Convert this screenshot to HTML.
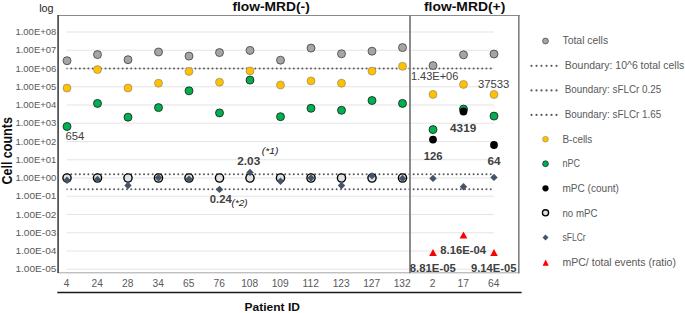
<!DOCTYPE html>
<html><head><meta charset="utf-8"><style>
html,body{margin:0;padding:0;background:#fff;width:685px;height:313px;overflow:hidden}
svg{display:block}
</style></head><body>
<svg width="685" height="313" viewBox="0 0 685 313">
<rect width="685" height="313" fill="#fff"/>
<line x1="66.7" x2="494" y1="269.25" y2="269.25" stroke="#e4e4e4" stroke-width="1.2"/>
<line x1="66.7" x2="494" y1="251.00" y2="251.00" stroke="#e4e4e4" stroke-width="1.2"/>
<line x1="66.7" x2="494" y1="232.75" y2="232.75" stroke="#e4e4e4" stroke-width="1.2"/>
<line x1="66.7" x2="494" y1="214.50" y2="214.50" stroke="#e4e4e4" stroke-width="1.2"/>
<line x1="66.7" x2="494" y1="196.25" y2="196.25" stroke="#e4e4e4" stroke-width="1.2"/>
<line x1="66.7" x2="494" y1="178.00" y2="178.00" stroke="#e4e4e4" stroke-width="1.2"/>
<line x1="66.7" x2="494" y1="159.75" y2="159.75" stroke="#e4e4e4" stroke-width="1.2"/>
<line x1="66.7" x2="494" y1="141.50" y2="141.50" stroke="#e4e4e4" stroke-width="1.2"/>
<line x1="66.7" x2="494" y1="123.25" y2="123.25" stroke="#e4e4e4" stroke-width="1.2"/>
<line x1="66.7" x2="494" y1="105.00" y2="105.00" stroke="#e4e4e4" stroke-width="1.2"/>
<line x1="66.7" x2="494" y1="86.75" y2="86.75" stroke="#e4e4e4" stroke-width="1.2"/>
<line x1="66.7" x2="494" y1="68.50" y2="68.50" stroke="#e4e4e4" stroke-width="1.2"/>
<line x1="66.7" x2="494" y1="50.25" y2="50.25" stroke="#e4e4e4" stroke-width="1.2"/>
<line x1="66.7" x2="494" y1="32.00" y2="32.00" stroke="#e4e4e4" stroke-width="1.2"/>
<circle cx="67.00" cy="68.50" r="1.0" fill="#5a5a5a" fill-opacity="0.6"/><circle cx="71.28" cy="68.50" r="1.0" fill="#5a5a5a"/><circle cx="75.56" cy="68.50" r="1.0" fill="#5a5a5a"/><circle cx="79.84" cy="68.50" r="1.0" fill="#5a5a5a"/><circle cx="84.12" cy="68.50" r="1.0" fill="#5a5a5a"/><circle cx="88.40" cy="68.50" r="1.0" fill="#5a5a5a"/><circle cx="92.68" cy="68.50" r="1.0" fill="#5a5a5a"/><circle cx="96.96" cy="68.50" r="1.0" fill="#5a5a5a"/><circle cx="101.24" cy="68.50" r="1.0" fill="#5a5a5a"/><circle cx="105.52" cy="68.50" r="1.0" fill="#5a5a5a"/><circle cx="109.80" cy="68.50" r="1.0" fill="#5a5a5a"/><circle cx="114.08" cy="68.50" r="1.0" fill="#5a5a5a"/><circle cx="118.36" cy="68.50" r="1.0" fill="#5a5a5a"/><circle cx="122.64" cy="68.50" r="1.0" fill="#5a5a5a"/><circle cx="126.92" cy="68.50" r="1.0" fill="#5a5a5a"/><circle cx="131.20" cy="68.50" r="1.0" fill="#5a5a5a"/><circle cx="135.48" cy="68.50" r="1.0" fill="#5a5a5a"/><circle cx="139.76" cy="68.50" r="1.0" fill="#5a5a5a"/><circle cx="144.04" cy="68.50" r="1.0" fill="#5a5a5a"/><circle cx="148.32" cy="68.50" r="1.0" fill="#5a5a5a"/><circle cx="152.60" cy="68.50" r="1.0" fill="#5a5a5a"/><circle cx="156.88" cy="68.50" r="1.0" fill="#5a5a5a"/><circle cx="161.16" cy="68.50" r="1.0" fill="#5a5a5a"/><circle cx="165.44" cy="68.50" r="1.0" fill="#5a5a5a"/><circle cx="169.72" cy="68.50" r="1.0" fill="#5a5a5a"/><circle cx="174.00" cy="68.50" r="1.0" fill="#5a5a5a"/><circle cx="178.28" cy="68.50" r="1.0" fill="#5a5a5a"/><circle cx="182.56" cy="68.50" r="1.0" fill="#5a5a5a"/><circle cx="186.84" cy="68.50" r="1.0" fill="#5a5a5a"/><circle cx="191.12" cy="68.50" r="1.0" fill="#5a5a5a"/><circle cx="195.40" cy="68.50" r="1.0" fill="#5a5a5a"/><circle cx="199.68" cy="68.50" r="1.0" fill="#5a5a5a"/><circle cx="203.96" cy="68.50" r="1.0" fill="#5a5a5a"/><circle cx="208.24" cy="68.50" r="1.0" fill="#5a5a5a"/><circle cx="212.52" cy="68.50" r="1.0" fill="#5a5a5a"/><circle cx="216.80" cy="68.50" r="1.0" fill="#5a5a5a"/><circle cx="221.08" cy="68.50" r="1.0" fill="#5a5a5a"/><circle cx="225.36" cy="68.50" r="1.0" fill="#5a5a5a"/><circle cx="229.64" cy="68.50" r="1.0" fill="#5a5a5a"/><circle cx="233.92" cy="68.50" r="1.0" fill="#5a5a5a"/><circle cx="238.20" cy="68.50" r="1.0" fill="#5a5a5a"/><circle cx="242.48" cy="68.50" r="1.0" fill="#5a5a5a"/><circle cx="246.76" cy="68.50" r="1.0" fill="#5a5a5a"/><circle cx="251.04" cy="68.50" r="1.0" fill="#5a5a5a"/><circle cx="255.32" cy="68.50" r="1.0" fill="#5a5a5a"/><circle cx="259.60" cy="68.50" r="1.0" fill="#5a5a5a"/><circle cx="263.88" cy="68.50" r="1.0" fill="#5a5a5a"/><circle cx="268.16" cy="68.50" r="1.0" fill="#5a5a5a"/><circle cx="272.44" cy="68.50" r="1.0" fill="#5a5a5a"/><circle cx="276.72" cy="68.50" r="1.0" fill="#5a5a5a"/><circle cx="281.00" cy="68.50" r="1.0" fill="#5a5a5a"/><circle cx="285.28" cy="68.50" r="1.0" fill="#5a5a5a"/><circle cx="289.56" cy="68.50" r="1.0" fill="#5a5a5a"/><circle cx="293.84" cy="68.50" r="1.0" fill="#5a5a5a"/><circle cx="298.12" cy="68.50" r="1.0" fill="#5a5a5a"/><circle cx="302.40" cy="68.50" r="1.0" fill="#5a5a5a"/><circle cx="306.68" cy="68.50" r="1.0" fill="#5a5a5a"/><circle cx="310.96" cy="68.50" r="1.0" fill="#5a5a5a"/><circle cx="315.24" cy="68.50" r="1.0" fill="#5a5a5a"/><circle cx="319.52" cy="68.50" r="1.0" fill="#5a5a5a"/><circle cx="323.80" cy="68.50" r="1.0" fill="#5a5a5a"/><circle cx="328.08" cy="68.50" r="1.0" fill="#5a5a5a"/><circle cx="332.36" cy="68.50" r="1.0" fill="#5a5a5a"/><circle cx="336.64" cy="68.50" r="1.0" fill="#5a5a5a"/><circle cx="340.92" cy="68.50" r="1.0" fill="#5a5a5a"/><circle cx="345.20" cy="68.50" r="1.0" fill="#5a5a5a"/><circle cx="349.48" cy="68.50" r="1.0" fill="#5a5a5a"/><circle cx="353.76" cy="68.50" r="1.0" fill="#5a5a5a"/><circle cx="358.04" cy="68.50" r="1.0" fill="#5a5a5a"/><circle cx="362.32" cy="68.50" r="1.0" fill="#5a5a5a"/><circle cx="366.60" cy="68.50" r="1.0" fill="#5a5a5a"/><circle cx="370.88" cy="68.50" r="1.0" fill="#5a5a5a"/><circle cx="375.16" cy="68.50" r="1.0" fill="#5a5a5a"/><circle cx="379.44" cy="68.50" r="1.0" fill="#5a5a5a"/><circle cx="383.72" cy="68.50" r="1.0" fill="#5a5a5a"/><circle cx="388.00" cy="68.50" r="1.0" fill="#5a5a5a"/><circle cx="392.28" cy="68.50" r="1.0" fill="#5a5a5a"/><circle cx="396.56" cy="68.50" r="1.0" fill="#5a5a5a"/><circle cx="400.84" cy="68.50" r="1.0" fill="#5a5a5a"/><circle cx="405.12" cy="68.50" r="1.0" fill="#5a5a5a"/><circle cx="409.40" cy="68.50" r="1.0" fill="#5a5a5a"/><circle cx="413.68" cy="68.50" r="1.0" fill="#5a5a5a"/><circle cx="417.96" cy="68.50" r="1.0" fill="#5a5a5a"/><circle cx="422.24" cy="68.50" r="1.0" fill="#5a5a5a"/><circle cx="426.52" cy="68.50" r="1.0" fill="#5a5a5a"/><circle cx="430.80" cy="68.50" r="1.0" fill="#5a5a5a"/><circle cx="435.08" cy="68.50" r="1.0" fill="#5a5a5a"/><circle cx="439.36" cy="68.50" r="1.0" fill="#5a5a5a"/><circle cx="443.64" cy="68.50" r="1.0" fill="#5a5a5a"/><circle cx="447.92" cy="68.50" r="1.0" fill="#5a5a5a"/><circle cx="452.20" cy="68.50" r="1.0" fill="#5a5a5a"/><circle cx="456.48" cy="68.50" r="1.0" fill="#5a5a5a"/><circle cx="460.76" cy="68.50" r="1.0" fill="#5a5a5a"/><circle cx="465.04" cy="68.50" r="1.0" fill="#5a5a5a"/><circle cx="469.32" cy="68.50" r="1.0" fill="#5a5a5a"/><circle cx="473.60" cy="68.50" r="1.0" fill="#5a5a5a"/><circle cx="477.88" cy="68.50" r="1.0" fill="#5a5a5a"/><circle cx="482.16" cy="68.50" r="1.0" fill="#5a5a5a"/><circle cx="486.44" cy="68.50" r="1.0" fill="#5a5a5a"/><circle cx="490.72" cy="68.50" r="1.0" fill="#5a5a5a"/>
<circle cx="67.00" cy="174.30" r="1.0" fill="#5a5a5a" fill-opacity="0.6"/><circle cx="71.28" cy="174.30" r="1.0" fill="#5a5a5a"/><circle cx="75.56" cy="174.30" r="1.0" fill="#5a5a5a"/><circle cx="79.84" cy="174.30" r="1.0" fill="#5a5a5a"/><circle cx="84.12" cy="174.30" r="1.0" fill="#5a5a5a"/><circle cx="88.40" cy="174.30" r="1.0" fill="#5a5a5a"/><circle cx="92.68" cy="174.30" r="1.0" fill="#5a5a5a"/><circle cx="96.96" cy="174.30" r="1.0" fill="#5a5a5a"/><circle cx="101.24" cy="174.30" r="1.0" fill="#5a5a5a"/><circle cx="105.52" cy="174.30" r="1.0" fill="#5a5a5a"/><circle cx="109.80" cy="174.30" r="1.0" fill="#5a5a5a"/><circle cx="114.08" cy="174.30" r="1.0" fill="#5a5a5a"/><circle cx="118.36" cy="174.30" r="1.0" fill="#5a5a5a"/><circle cx="122.64" cy="174.30" r="1.0" fill="#5a5a5a"/><circle cx="126.92" cy="174.30" r="1.0" fill="#5a5a5a"/><circle cx="131.20" cy="174.30" r="1.0" fill="#5a5a5a"/><circle cx="135.48" cy="174.30" r="1.0" fill="#5a5a5a"/><circle cx="139.76" cy="174.30" r="1.0" fill="#5a5a5a"/><circle cx="144.04" cy="174.30" r="1.0" fill="#5a5a5a"/><circle cx="148.32" cy="174.30" r="1.0" fill="#5a5a5a"/><circle cx="152.60" cy="174.30" r="1.0" fill="#5a5a5a"/><circle cx="156.88" cy="174.30" r="1.0" fill="#5a5a5a"/><circle cx="161.16" cy="174.30" r="1.0" fill="#5a5a5a"/><circle cx="165.44" cy="174.30" r="1.0" fill="#5a5a5a"/><circle cx="169.72" cy="174.30" r="1.0" fill="#5a5a5a"/><circle cx="174.00" cy="174.30" r="1.0" fill="#5a5a5a"/><circle cx="178.28" cy="174.30" r="1.0" fill="#5a5a5a"/><circle cx="182.56" cy="174.30" r="1.0" fill="#5a5a5a"/><circle cx="186.84" cy="174.30" r="1.0" fill="#5a5a5a"/><circle cx="191.12" cy="174.30" r="1.0" fill="#5a5a5a"/><circle cx="195.40" cy="174.30" r="1.0" fill="#5a5a5a"/><circle cx="199.68" cy="174.30" r="1.0" fill="#5a5a5a"/><circle cx="203.96" cy="174.30" r="1.0" fill="#5a5a5a"/><circle cx="208.24" cy="174.30" r="1.0" fill="#5a5a5a"/><circle cx="212.52" cy="174.30" r="1.0" fill="#5a5a5a"/><circle cx="216.80" cy="174.30" r="1.0" fill="#5a5a5a"/><circle cx="221.08" cy="174.30" r="1.0" fill="#5a5a5a"/><circle cx="225.36" cy="174.30" r="1.0" fill="#5a5a5a"/><circle cx="229.64" cy="174.30" r="1.0" fill="#5a5a5a"/><circle cx="233.92" cy="174.30" r="1.0" fill="#5a5a5a"/><circle cx="238.20" cy="174.30" r="1.0" fill="#5a5a5a"/><circle cx="242.48" cy="174.30" r="1.0" fill="#5a5a5a"/><circle cx="246.76" cy="174.30" r="1.0" fill="#5a5a5a"/><circle cx="251.04" cy="174.30" r="1.0" fill="#5a5a5a"/><circle cx="255.32" cy="174.30" r="1.0" fill="#5a5a5a"/><circle cx="259.60" cy="174.30" r="1.0" fill="#5a5a5a"/><circle cx="263.88" cy="174.30" r="1.0" fill="#5a5a5a"/><circle cx="268.16" cy="174.30" r="1.0" fill="#5a5a5a"/><circle cx="272.44" cy="174.30" r="1.0" fill="#5a5a5a"/><circle cx="276.72" cy="174.30" r="1.0" fill="#5a5a5a"/><circle cx="281.00" cy="174.30" r="1.0" fill="#5a5a5a"/><circle cx="285.28" cy="174.30" r="1.0" fill="#5a5a5a"/><circle cx="289.56" cy="174.30" r="1.0" fill="#5a5a5a"/><circle cx="293.84" cy="174.30" r="1.0" fill="#5a5a5a"/><circle cx="298.12" cy="174.30" r="1.0" fill="#5a5a5a"/><circle cx="302.40" cy="174.30" r="1.0" fill="#5a5a5a"/><circle cx="306.68" cy="174.30" r="1.0" fill="#5a5a5a"/><circle cx="310.96" cy="174.30" r="1.0" fill="#5a5a5a"/><circle cx="315.24" cy="174.30" r="1.0" fill="#5a5a5a"/><circle cx="319.52" cy="174.30" r="1.0" fill="#5a5a5a"/><circle cx="323.80" cy="174.30" r="1.0" fill="#5a5a5a"/><circle cx="328.08" cy="174.30" r="1.0" fill="#5a5a5a"/><circle cx="332.36" cy="174.30" r="1.0" fill="#5a5a5a"/><circle cx="336.64" cy="174.30" r="1.0" fill="#5a5a5a"/><circle cx="340.92" cy="174.30" r="1.0" fill="#5a5a5a"/><circle cx="345.20" cy="174.30" r="1.0" fill="#5a5a5a"/><circle cx="349.48" cy="174.30" r="1.0" fill="#5a5a5a"/><circle cx="353.76" cy="174.30" r="1.0" fill="#5a5a5a"/><circle cx="358.04" cy="174.30" r="1.0" fill="#5a5a5a"/><circle cx="362.32" cy="174.30" r="1.0" fill="#5a5a5a"/><circle cx="366.60" cy="174.30" r="1.0" fill="#5a5a5a"/><circle cx="370.88" cy="174.30" r="1.0" fill="#5a5a5a"/><circle cx="375.16" cy="174.30" r="1.0" fill="#5a5a5a"/><circle cx="379.44" cy="174.30" r="1.0" fill="#5a5a5a"/><circle cx="383.72" cy="174.30" r="1.0" fill="#5a5a5a"/><circle cx="388.00" cy="174.30" r="1.0" fill="#5a5a5a"/><circle cx="392.28" cy="174.30" r="1.0" fill="#5a5a5a"/><circle cx="396.56" cy="174.30" r="1.0" fill="#5a5a5a"/><circle cx="400.84" cy="174.30" r="1.0" fill="#5a5a5a"/><circle cx="405.12" cy="174.30" r="1.0" fill="#5a5a5a"/><circle cx="409.40" cy="174.30" r="1.0" fill="#5a5a5a"/><circle cx="413.68" cy="174.30" r="1.0" fill="#5a5a5a"/><circle cx="417.96" cy="174.30" r="1.0" fill="#5a5a5a"/><circle cx="422.24" cy="174.30" r="1.0" fill="#5a5a5a"/><circle cx="426.52" cy="174.30" r="1.0" fill="#5a5a5a"/><circle cx="430.80" cy="174.30" r="1.0" fill="#5a5a5a"/><circle cx="435.08" cy="174.30" r="1.0" fill="#5a5a5a"/><circle cx="439.36" cy="174.30" r="1.0" fill="#5a5a5a"/><circle cx="443.64" cy="174.30" r="1.0" fill="#5a5a5a"/><circle cx="447.92" cy="174.30" r="1.0" fill="#5a5a5a"/><circle cx="452.20" cy="174.30" r="1.0" fill="#5a5a5a"/><circle cx="456.48" cy="174.30" r="1.0" fill="#5a5a5a"/><circle cx="460.76" cy="174.30" r="1.0" fill="#5a5a5a"/><circle cx="465.04" cy="174.30" r="1.0" fill="#5a5a5a"/><circle cx="469.32" cy="174.30" r="1.0" fill="#5a5a5a"/><circle cx="473.60" cy="174.30" r="1.0" fill="#5a5a5a"/><circle cx="477.88" cy="174.30" r="1.0" fill="#5a5a5a"/><circle cx="482.16" cy="174.30" r="1.0" fill="#5a5a5a"/><circle cx="486.44" cy="174.30" r="1.0" fill="#5a5a5a"/><circle cx="490.72" cy="174.30" r="1.0" fill="#5a5a5a"/>
<circle cx="67.00" cy="189.30" r="1.0" fill="#5a5a5a" fill-opacity="0.6"/><circle cx="71.28" cy="189.30" r="1.0" fill="#5a5a5a"/><circle cx="75.56" cy="189.30" r="1.0" fill="#5a5a5a"/><circle cx="79.84" cy="189.30" r="1.0" fill="#5a5a5a"/><circle cx="84.12" cy="189.30" r="1.0" fill="#5a5a5a"/><circle cx="88.40" cy="189.30" r="1.0" fill="#5a5a5a"/><circle cx="92.68" cy="189.30" r="1.0" fill="#5a5a5a"/><circle cx="96.96" cy="189.30" r="1.0" fill="#5a5a5a"/><circle cx="101.24" cy="189.30" r="1.0" fill="#5a5a5a"/><circle cx="105.52" cy="189.30" r="1.0" fill="#5a5a5a"/><circle cx="109.80" cy="189.30" r="1.0" fill="#5a5a5a"/><circle cx="114.08" cy="189.30" r="1.0" fill="#5a5a5a"/><circle cx="118.36" cy="189.30" r="1.0" fill="#5a5a5a"/><circle cx="122.64" cy="189.30" r="1.0" fill="#5a5a5a"/><circle cx="126.92" cy="189.30" r="1.0" fill="#5a5a5a"/><circle cx="131.20" cy="189.30" r="1.0" fill="#5a5a5a"/><circle cx="135.48" cy="189.30" r="1.0" fill="#5a5a5a"/><circle cx="139.76" cy="189.30" r="1.0" fill="#5a5a5a"/><circle cx="144.04" cy="189.30" r="1.0" fill="#5a5a5a"/><circle cx="148.32" cy="189.30" r="1.0" fill="#5a5a5a"/><circle cx="152.60" cy="189.30" r="1.0" fill="#5a5a5a"/><circle cx="156.88" cy="189.30" r="1.0" fill="#5a5a5a"/><circle cx="161.16" cy="189.30" r="1.0" fill="#5a5a5a"/><circle cx="165.44" cy="189.30" r="1.0" fill="#5a5a5a"/><circle cx="169.72" cy="189.30" r="1.0" fill="#5a5a5a"/><circle cx="174.00" cy="189.30" r="1.0" fill="#5a5a5a"/><circle cx="178.28" cy="189.30" r="1.0" fill="#5a5a5a"/><circle cx="182.56" cy="189.30" r="1.0" fill="#5a5a5a"/><circle cx="186.84" cy="189.30" r="1.0" fill="#5a5a5a"/><circle cx="191.12" cy="189.30" r="1.0" fill="#5a5a5a"/><circle cx="195.40" cy="189.30" r="1.0" fill="#5a5a5a"/><circle cx="199.68" cy="189.30" r="1.0" fill="#5a5a5a"/><circle cx="203.96" cy="189.30" r="1.0" fill="#5a5a5a"/><circle cx="208.24" cy="189.30" r="1.0" fill="#5a5a5a"/><circle cx="212.52" cy="189.30" r="1.0" fill="#5a5a5a"/><circle cx="216.80" cy="189.30" r="1.0" fill="#5a5a5a"/><circle cx="221.08" cy="189.30" r="1.0" fill="#5a5a5a"/><circle cx="225.36" cy="189.30" r="1.0" fill="#5a5a5a"/><circle cx="229.64" cy="189.30" r="1.0" fill="#5a5a5a"/><circle cx="233.92" cy="189.30" r="1.0" fill="#5a5a5a"/><circle cx="238.20" cy="189.30" r="1.0" fill="#5a5a5a"/><circle cx="242.48" cy="189.30" r="1.0" fill="#5a5a5a"/><circle cx="246.76" cy="189.30" r="1.0" fill="#5a5a5a"/><circle cx="251.04" cy="189.30" r="1.0" fill="#5a5a5a"/><circle cx="255.32" cy="189.30" r="1.0" fill="#5a5a5a"/><circle cx="259.60" cy="189.30" r="1.0" fill="#5a5a5a"/><circle cx="263.88" cy="189.30" r="1.0" fill="#5a5a5a"/><circle cx="268.16" cy="189.30" r="1.0" fill="#5a5a5a"/><circle cx="272.44" cy="189.30" r="1.0" fill="#5a5a5a"/><circle cx="276.72" cy="189.30" r="1.0" fill="#5a5a5a"/><circle cx="281.00" cy="189.30" r="1.0" fill="#5a5a5a"/><circle cx="285.28" cy="189.30" r="1.0" fill="#5a5a5a"/><circle cx="289.56" cy="189.30" r="1.0" fill="#5a5a5a"/><circle cx="293.84" cy="189.30" r="1.0" fill="#5a5a5a"/><circle cx="298.12" cy="189.30" r="1.0" fill="#5a5a5a"/><circle cx="302.40" cy="189.30" r="1.0" fill="#5a5a5a"/><circle cx="306.68" cy="189.30" r="1.0" fill="#5a5a5a"/><circle cx="310.96" cy="189.30" r="1.0" fill="#5a5a5a"/><circle cx="315.24" cy="189.30" r="1.0" fill="#5a5a5a"/><circle cx="319.52" cy="189.30" r="1.0" fill="#5a5a5a"/><circle cx="323.80" cy="189.30" r="1.0" fill="#5a5a5a"/><circle cx="328.08" cy="189.30" r="1.0" fill="#5a5a5a"/><circle cx="332.36" cy="189.30" r="1.0" fill="#5a5a5a"/><circle cx="336.64" cy="189.30" r="1.0" fill="#5a5a5a"/><circle cx="340.92" cy="189.30" r="1.0" fill="#5a5a5a"/><circle cx="345.20" cy="189.30" r="1.0" fill="#5a5a5a"/><circle cx="349.48" cy="189.30" r="1.0" fill="#5a5a5a"/><circle cx="353.76" cy="189.30" r="1.0" fill="#5a5a5a"/><circle cx="358.04" cy="189.30" r="1.0" fill="#5a5a5a"/><circle cx="362.32" cy="189.30" r="1.0" fill="#5a5a5a"/><circle cx="366.60" cy="189.30" r="1.0" fill="#5a5a5a"/><circle cx="370.88" cy="189.30" r="1.0" fill="#5a5a5a"/><circle cx="375.16" cy="189.30" r="1.0" fill="#5a5a5a"/><circle cx="379.44" cy="189.30" r="1.0" fill="#5a5a5a"/><circle cx="383.72" cy="189.30" r="1.0" fill="#5a5a5a"/><circle cx="388.00" cy="189.30" r="1.0" fill="#5a5a5a"/><circle cx="392.28" cy="189.30" r="1.0" fill="#5a5a5a"/><circle cx="396.56" cy="189.30" r="1.0" fill="#5a5a5a"/><circle cx="400.84" cy="189.30" r="1.0" fill="#5a5a5a"/><circle cx="405.12" cy="189.30" r="1.0" fill="#5a5a5a"/><circle cx="409.40" cy="189.30" r="1.0" fill="#5a5a5a"/><circle cx="413.68" cy="189.30" r="1.0" fill="#5a5a5a"/><circle cx="417.96" cy="189.30" r="1.0" fill="#5a5a5a"/><circle cx="422.24" cy="189.30" r="1.0" fill="#5a5a5a"/><circle cx="426.52" cy="189.30" r="1.0" fill="#5a5a5a"/><circle cx="430.80" cy="189.30" r="1.0" fill="#5a5a5a"/><circle cx="435.08" cy="189.30" r="1.0" fill="#5a5a5a"/><circle cx="439.36" cy="189.30" r="1.0" fill="#5a5a5a"/><circle cx="443.64" cy="189.30" r="1.0" fill="#5a5a5a"/><circle cx="447.92" cy="189.30" r="1.0" fill="#5a5a5a"/><circle cx="452.20" cy="189.30" r="1.0" fill="#5a5a5a"/><circle cx="456.48" cy="189.30" r="1.0" fill="#5a5a5a"/><circle cx="460.76" cy="189.30" r="1.0" fill="#5a5a5a"/><circle cx="465.04" cy="189.30" r="1.0" fill="#5a5a5a"/><circle cx="469.32" cy="189.30" r="1.0" fill="#5a5a5a"/><circle cx="473.60" cy="189.30" r="1.0" fill="#5a5a5a"/><circle cx="477.88" cy="189.30" r="1.0" fill="#5a5a5a"/><circle cx="482.16" cy="189.30" r="1.0" fill="#5a5a5a"/><circle cx="486.44" cy="189.30" r="1.0" fill="#5a5a5a"/><circle cx="490.72" cy="189.30" r="1.0" fill="#5a5a5a"/>
<line x1="58" x2="519.5" y1="15.5" y2="15.5" stroke="#8a8a8a" stroke-width="1"/>
<line x1="58" x2="519.5" y1="272.8" y2="272.8" stroke="#a6a6a6" stroke-width="1"/>
<line x1="410" x2="410" y1="15" y2="273.3" stroke="#7f7f7f" stroke-width="1.8"/>
<line x1="518.8" x2="518.8" y1="15" y2="273.3" stroke="#7f7f7f" stroke-width="1.6"/>
<line x1="58.1" x2="58.1" y1="15" y2="273" stroke="#333" stroke-width="1.5"/>
<line x1="57.3" x2="521.6" y1="292.6" y2="292.6" stroke="#1a1a1a" stroke-width="1.5"/>
<circle cx="67.00" cy="60.7" r="4.0" fill="#a5a5a5" stroke="#404040" stroke-width="0.8"/>
<circle cx="97.50" cy="54.6" r="4.0" fill="#a5a5a5" stroke="#404040" stroke-width="0.8"/>
<circle cx="128.00" cy="59.7" r="4.0" fill="#a5a5a5" stroke="#404040" stroke-width="0.8"/>
<circle cx="158.50" cy="52.0" r="4.0" fill="#a5a5a5" stroke="#404040" stroke-width="0.8"/>
<circle cx="189.00" cy="56.1" r="4.0" fill="#a5a5a5" stroke="#404040" stroke-width="0.8"/>
<circle cx="219.50" cy="52.6" r="4.0" fill="#a5a5a5" stroke="#404040" stroke-width="0.8"/>
<circle cx="250.00" cy="50.4" r="4.0" fill="#a5a5a5" stroke="#404040" stroke-width="0.8"/>
<circle cx="280.50" cy="60.2" r="4.0" fill="#a5a5a5" stroke="#404040" stroke-width="0.8"/>
<circle cx="311.00" cy="48.1" r="4.0" fill="#a5a5a5" stroke="#404040" stroke-width="0.8"/>
<circle cx="341.50" cy="53.8" r="4.0" fill="#a5a5a5" stroke="#404040" stroke-width="0.8"/>
<circle cx="372.00" cy="51.2" r="4.0" fill="#a5a5a5" stroke="#404040" stroke-width="0.8"/>
<circle cx="402.50" cy="47.6" r="4.0" fill="#a5a5a5" stroke="#404040" stroke-width="0.8"/>
<circle cx="433.00" cy="65.6" r="4.0" fill="#a5a5a5" stroke="#404040" stroke-width="0.8"/>
<circle cx="463.50" cy="54.8" r="4.0" fill="#a5a5a5" stroke="#404040" stroke-width="0.8"/>
<circle cx="494.00" cy="54.0" r="4.0" fill="#a5a5a5" stroke="#404040" stroke-width="0.8"/>
<circle cx="67.00" cy="88.1" r="4.0" fill="#ffc000" stroke="#7f7f7f" stroke-width="0.6"/>
<circle cx="97.50" cy="69.6" r="4.0" fill="#ffc000" stroke="#7f7f7f" stroke-width="0.6"/>
<circle cx="128.00" cy="88.0" r="4.0" fill="#ffc000" stroke="#7f7f7f" stroke-width="0.6"/>
<circle cx="158.50" cy="83.2" r="4.0" fill="#ffc000" stroke="#7f7f7f" stroke-width="0.6"/>
<circle cx="189.00" cy="71.4" r="4.0" fill="#ffc000" stroke="#7f7f7f" stroke-width="0.6"/>
<circle cx="219.50" cy="82.2" r="4.0" fill="#ffc000" stroke="#7f7f7f" stroke-width="0.6"/>
<circle cx="250.00" cy="70.9" r="4.0" fill="#ffc000" stroke="#7f7f7f" stroke-width="0.6"/>
<circle cx="280.50" cy="85.0" r="4.0" fill="#ffc000" stroke="#7f7f7f" stroke-width="0.6"/>
<circle cx="311.00" cy="80.9" r="4.0" fill="#ffc000" stroke="#7f7f7f" stroke-width="0.6"/>
<circle cx="341.50" cy="83.2" r="4.0" fill="#ffc000" stroke="#7f7f7f" stroke-width="0.6"/>
<circle cx="372.00" cy="71.1" r="4.0" fill="#ffc000" stroke="#7f7f7f" stroke-width="0.6"/>
<circle cx="402.50" cy="66.3" r="4.0" fill="#ffc000" stroke="#7f7f7f" stroke-width="0.6"/>
<circle cx="433.00" cy="94.4" r="4.0" fill="#ffc000" stroke="#7f7f7f" stroke-width="0.6"/>
<circle cx="463.50" cy="84.4" r="4.0" fill="#ffc000" stroke="#7f7f7f" stroke-width="0.6"/>
<circle cx="494.00" cy="94.5" r="4.0" fill="#ffc000" stroke="#7f7f7f" stroke-width="0.6"/>
<circle cx="67.00" cy="126.5" r="4.0" fill="#00b050" stroke="#1a1a1a" stroke-width="0.8"/>
<circle cx="97.50" cy="103.4" r="4.0" fill="#00b050" stroke="#1a1a1a" stroke-width="0.8"/>
<circle cx="128.00" cy="117.2" r="4.0" fill="#00b050" stroke="#1a1a1a" stroke-width="0.8"/>
<circle cx="158.50" cy="107.6" r="4.0" fill="#00b050" stroke="#1a1a1a" stroke-width="0.8"/>
<circle cx="189.00" cy="90.8" r="4.0" fill="#00b050" stroke="#1a1a1a" stroke-width="0.8"/>
<circle cx="219.50" cy="112.9" r="4.0" fill="#00b050" stroke="#1a1a1a" stroke-width="0.8"/>
<circle cx="250.00" cy="80.1" r="4.0" fill="#00b050" stroke="#1a1a1a" stroke-width="0.8"/>
<circle cx="280.50" cy="116.7" r="4.0" fill="#00b050" stroke="#1a1a1a" stroke-width="0.8"/>
<circle cx="311.00" cy="108.3" r="4.0" fill="#00b050" stroke="#1a1a1a" stroke-width="0.8"/>
<circle cx="341.50" cy="110.3" r="4.0" fill="#00b050" stroke="#1a1a1a" stroke-width="0.8"/>
<circle cx="372.00" cy="100.5" r="4.0" fill="#00b050" stroke="#1a1a1a" stroke-width="0.8"/>
<circle cx="402.50" cy="103.4" r="4.0" fill="#00b050" stroke="#1a1a1a" stroke-width="0.8"/>
<circle cx="433.00" cy="129.6" r="4.0" fill="#00b050" stroke="#1a1a1a" stroke-width="0.8"/>
<circle cx="463.50" cy="109.1" r="4.0" fill="#00b050" stroke="#1a1a1a" stroke-width="0.8"/>
<circle cx="494.00" cy="116.1" r="4.0" fill="#00b050" stroke="#1a1a1a" stroke-width="0.8"/>
<circle cx="433.00" cy="139.6" r="3.9" fill="#000"/>
<circle cx="463.50" cy="111.5" r="3.9" fill="#000"/>
<circle cx="494.00" cy="145.0" r="3.9" fill="#000"/>
<circle cx="67.00" cy="178.0" r="4.1" fill="#e2e2e2" stroke="#000" stroke-width="1.4"/>
<circle cx="97.50" cy="178.0" r="4.1" fill="#e2e2e2" stroke="#000" stroke-width="1.4"/>
<circle cx="128.00" cy="178.0" r="4.1" fill="#e2e2e2" stroke="#000" stroke-width="1.4"/>
<circle cx="158.50" cy="178.0" r="4.1" fill="#e2e2e2" stroke="#000" stroke-width="1.4"/>
<circle cx="189.00" cy="178.0" r="4.1" fill="#e2e2e2" stroke="#000" stroke-width="1.4"/>
<circle cx="219.50" cy="178.0" r="4.1" fill="#e2e2e2" stroke="#000" stroke-width="1.4"/>
<circle cx="250.00" cy="178.0" r="4.1" fill="#e2e2e2" stroke="#000" stroke-width="1.4"/>
<circle cx="280.50" cy="178.0" r="4.1" fill="#e2e2e2" stroke="#000" stroke-width="1.4"/>
<circle cx="311.00" cy="178.0" r="4.1" fill="#e2e2e2" stroke="#000" stroke-width="1.4"/>
<circle cx="341.50" cy="178.0" r="4.1" fill="#e2e2e2" stroke="#000" stroke-width="1.4"/>
<circle cx="372.00" cy="178.0" r="4.1" fill="#e2e2e2" stroke="#000" stroke-width="1.4"/>
<circle cx="402.50" cy="178.0" r="4.1" fill="#e2e2e2" stroke="#000" stroke-width="1.4"/>
<path d="M67.00 176.50L70.70 180.20L67.00 183.90L63.30 180.20Z" fill="#44546a"/>
<path d="M97.50 175.70L101.20 179.40L97.50 183.10L93.80 179.40Z" fill="#44546a"/>
<path d="M128.00 181.80L131.70 185.50L128.00 189.20L124.30 185.50Z" fill="#44546a"/>
<path d="M158.50 174.10L162.20 177.80L158.50 181.50L154.80 177.80Z" fill="#44546a"/>
<path d="M189.00 175.40L192.70 179.10L189.00 182.80L185.30 179.10Z" fill="#44546a"/>
<path d="M219.50 185.70L223.20 189.40L219.50 193.10L215.80 189.40Z" fill="#44546a"/>
<path d="M250.00 168.70L253.70 172.40L250.00 176.10L246.30 172.40Z" fill="#44546a"/>
<path d="M280.50 177.60L284.20 181.30L280.50 185.00L276.80 181.30Z" fill="#44546a"/>
<path d="M311.00 174.30L314.70 178.00L311.00 181.70L307.30 178.00Z" fill="#44546a"/>
<path d="M341.50 181.80L345.20 185.50L341.50 189.20L337.80 185.50Z" fill="#44546a"/>
<path d="M372.00 172.20L375.70 175.90L372.00 179.60L368.30 175.90Z" fill="#44546a"/>
<path d="M402.50 174.70L406.20 178.40L402.50 182.10L398.80 178.40Z" fill="#44546a"/>
<path d="M433.00 174.70L436.70 178.40L433.00 182.10L429.30 178.40Z" fill="#44546a"/>
<path d="M463.50 183.10L467.20 186.80L463.50 190.50L459.80 186.80Z" fill="#44546a"/>
<path d="M494.00 173.70L497.70 177.40L494.00 181.10L490.30 177.40Z" fill="#44546a"/>
<path d="M433.00 249.10L436.85 256.10L429.15 256.10Z" fill="#ff0000"/>
<path d="M463.50 231.50L467.35 238.50L459.65 238.50Z" fill="#ff0000"/>
<path d="M494.00 249.10L497.85 256.10L490.15 256.10Z" fill="#ff0000"/>
<text x="15.4" y="35.10" font-family="Liberation Sans, sans-serif" font-size="9.8" font-weight="normal" font-style="normal" fill="#595959" text-anchor="start" textLength="41.0" lengthAdjust="spacingAndGlyphs">1.00E+08</text>
<text x="15.4" y="53.35" font-family="Liberation Sans, sans-serif" font-size="9.8" font-weight="normal" font-style="normal" fill="#595959" text-anchor="start" textLength="41.0" lengthAdjust="spacingAndGlyphs">1.00E+07</text>
<text x="15.4" y="71.60" font-family="Liberation Sans, sans-serif" font-size="9.8" font-weight="normal" font-style="normal" fill="#595959" text-anchor="start" textLength="41.0" lengthAdjust="spacingAndGlyphs">1.00E+06</text>
<text x="15.4" y="89.85" font-family="Liberation Sans, sans-serif" font-size="9.8" font-weight="normal" font-style="normal" fill="#595959" text-anchor="start" textLength="41.0" lengthAdjust="spacingAndGlyphs">1.00E+05</text>
<text x="15.4" y="108.10" font-family="Liberation Sans, sans-serif" font-size="9.8" font-weight="normal" font-style="normal" fill="#595959" text-anchor="start" textLength="41.0" lengthAdjust="spacingAndGlyphs">1.00E+04</text>
<text x="15.4" y="126.35" font-family="Liberation Sans, sans-serif" font-size="9.8" font-weight="normal" font-style="normal" fill="#595959" text-anchor="start" textLength="41.0" lengthAdjust="spacingAndGlyphs">1.00E+03</text>
<text x="15.4" y="144.60" font-family="Liberation Sans, sans-serif" font-size="9.8" font-weight="normal" font-style="normal" fill="#595959" text-anchor="start" textLength="41.0" lengthAdjust="spacingAndGlyphs">1.00E+02</text>
<text x="15.4" y="162.85" font-family="Liberation Sans, sans-serif" font-size="9.8" font-weight="normal" font-style="normal" fill="#595959" text-anchor="start" textLength="41.0" lengthAdjust="spacingAndGlyphs">1.00E+01</text>
<text x="15.4" y="181.10" font-family="Liberation Sans, sans-serif" font-size="9.8" font-weight="normal" font-style="normal" fill="#595959" text-anchor="start" textLength="41.0" lengthAdjust="spacingAndGlyphs">1.00E+00</text>
<text x="15.4" y="199.35" font-family="Liberation Sans, sans-serif" font-size="9.8" font-weight="normal" font-style="normal" fill="#595959" text-anchor="start" textLength="41.0" lengthAdjust="spacingAndGlyphs">1.00E-01</text>
<text x="15.4" y="217.60" font-family="Liberation Sans, sans-serif" font-size="9.8" font-weight="normal" font-style="normal" fill="#595959" text-anchor="start" textLength="41.0" lengthAdjust="spacingAndGlyphs">1.00E-02</text>
<text x="15.4" y="235.85" font-family="Liberation Sans, sans-serif" font-size="9.8" font-weight="normal" font-style="normal" fill="#595959" text-anchor="start" textLength="41.0" lengthAdjust="spacingAndGlyphs">1.00E-03</text>
<text x="15.4" y="254.10" font-family="Liberation Sans, sans-serif" font-size="9.8" font-weight="normal" font-style="normal" fill="#595959" text-anchor="start" textLength="41.0" lengthAdjust="spacingAndGlyphs">1.00E-04</text>
<text x="15.4" y="272.35" font-family="Liberation Sans, sans-serif" font-size="9.8" font-weight="normal" font-style="normal" fill="#595959" text-anchor="start" textLength="41.0" lengthAdjust="spacingAndGlyphs">1.00E-05</text>
<text x="66.70" y="286.8" font-family="Liberation Sans, sans-serif" font-size="10.2" font-weight="normal" font-style="normal" fill="#595959" text-anchor="middle">4</text>
<text x="97.20" y="286.8" font-family="Liberation Sans, sans-serif" font-size="10.2" font-weight="normal" font-style="normal" fill="#595959" text-anchor="middle">24</text>
<text x="127.70" y="286.8" font-family="Liberation Sans, sans-serif" font-size="10.2" font-weight="normal" font-style="normal" fill="#595959" text-anchor="middle">28</text>
<text x="158.20" y="286.8" font-family="Liberation Sans, sans-serif" font-size="10.2" font-weight="normal" font-style="normal" fill="#595959" text-anchor="middle">34</text>
<text x="188.70" y="286.8" font-family="Liberation Sans, sans-serif" font-size="10.2" font-weight="normal" font-style="normal" fill="#595959" text-anchor="middle">65</text>
<text x="219.20" y="286.8" font-family="Liberation Sans, sans-serif" font-size="10.2" font-weight="normal" font-style="normal" fill="#595959" text-anchor="middle">76</text>
<text x="249.70" y="286.8" font-family="Liberation Sans, sans-serif" font-size="10.2" font-weight="normal" font-style="normal" fill="#595959" text-anchor="middle">108</text>
<text x="280.20" y="286.8" font-family="Liberation Sans, sans-serif" font-size="10.2" font-weight="normal" font-style="normal" fill="#595959" text-anchor="middle">109</text>
<text x="310.70" y="286.8" font-family="Liberation Sans, sans-serif" font-size="10.2" font-weight="normal" font-style="normal" fill="#595959" text-anchor="middle">112</text>
<text x="341.20" y="286.8" font-family="Liberation Sans, sans-serif" font-size="10.2" font-weight="normal" font-style="normal" fill="#595959" text-anchor="middle">123</text>
<text x="371.70" y="286.8" font-family="Liberation Sans, sans-serif" font-size="10.2" font-weight="normal" font-style="normal" fill="#595959" text-anchor="middle">127</text>
<text x="402.20" y="286.8" font-family="Liberation Sans, sans-serif" font-size="10.2" font-weight="normal" font-style="normal" fill="#595959" text-anchor="middle">132</text>
<text x="432.70" y="286.8" font-family="Liberation Sans, sans-serif" font-size="10.2" font-weight="normal" font-style="normal" fill="#595959" text-anchor="middle">2</text>
<text x="463.20" y="286.8" font-family="Liberation Sans, sans-serif" font-size="10.2" font-weight="normal" font-style="normal" fill="#595959" text-anchor="middle">17</text>
<text x="493.70" y="286.8" font-family="Liberation Sans, sans-serif" font-size="10.2" font-weight="normal" font-style="normal" fill="#595959" text-anchor="middle">64</text>
<text x="232.4" y="11.0" font-family="Liberation Sans, sans-serif" font-size="12.6" font-weight="bold" font-style="normal" fill="#0d0d0d" text-anchor="start" textLength="77.4" lengthAdjust="spacingAndGlyphs">flow-MRD(-)</text>
<text x="424.0" y="11.0" font-family="Liberation Sans, sans-serif" font-size="12.6" font-weight="bold" font-style="normal" fill="#0d0d0d" text-anchor="start" textLength="81.3" lengthAdjust="spacingAndGlyphs">flow-MRD(+)</text>
<text x="244.6" y="311" font-family="Liberation Sans, sans-serif" font-size="11.2" font-weight="bold" font-style="normal" fill="#0d0d0d" text-anchor="start" textLength="55.3" lengthAdjust="spacingAndGlyphs">Patient ID</text>
<text x="39.2" y="12.1" font-family="Liberation Sans, sans-serif" font-size="10.8" font-weight="normal" font-style="normal" fill="#262626" text-anchor="start" textLength="14.3" lengthAdjust="spacingAndGlyphs">log</text>
<g transform="translate(12.0 184.6) rotate(-90)"><text x="0" y="0" font-family="Liberation Sans, sans-serif" font-size="14" font-weight="bold" font-style="normal" fill="#0d0d0d" text-anchor="start" textLength="67.5" lengthAdjust="spacingAndGlyphs">Cell counts</text></g>
<text x="65.4" y="139.8" font-family="Liberation Sans, sans-serif" font-size="11.3" font-weight="normal" font-style="normal" fill="#404040" text-anchor="start" textLength="18.9" lengthAdjust="spacingAndGlyphs">654</text>
<text x="410.9" y="79.8" font-family="Liberation Sans, sans-serif" font-size="11" font-weight="normal" font-style="normal" fill="#404040" text-anchor="start" textLength="47.4" lengthAdjust="spacingAndGlyphs">1.43E+06</text>
<text x="477.9" y="88.3" font-family="Liberation Sans, sans-serif" font-size="11" font-weight="normal" font-style="normal" fill="#404040" text-anchor="start" textLength="31.4" lengthAdjust="spacingAndGlyphs">37533</text>
<text x="237.3" y="165.3" font-family="Liberation Sans, sans-serif" font-size="10.6" font-weight="bold" font-style="normal" fill="#404040" text-anchor="start" textLength="22.9" lengthAdjust="spacingAndGlyphs">2.03</text>
<text x="209.8" y="203.1" font-family="Liberation Sans, sans-serif" font-size="10.6" font-weight="bold" font-style="normal" fill="#404040" text-anchor="start" textLength="21.9" lengthAdjust="spacingAndGlyphs">0.24</text>
<text x="423.7" y="159.7" font-family="Liberation Sans, sans-serif" font-size="10.6" font-weight="bold" font-style="normal" fill="#404040" text-anchor="start" textLength="18.8" lengthAdjust="spacingAndGlyphs">126</text>
<text x="450.1" y="131.7" font-family="Liberation Sans, sans-serif" font-size="10.6" font-weight="bold" font-style="normal" fill="#404040" text-anchor="start" textLength="26.1" lengthAdjust="spacingAndGlyphs">4319</text>
<text x="487.4" y="164.8" font-family="Liberation Sans, sans-serif" font-size="10.6" font-weight="bold" font-style="normal" fill="#404040" text-anchor="start" textLength="13.1" lengthAdjust="spacingAndGlyphs">64</text>
<text x="440.3" y="254.2" font-family="Liberation Sans, sans-serif" font-size="10.6" font-weight="bold" font-style="normal" fill="#404040" text-anchor="start" textLength="45.6" lengthAdjust="spacingAndGlyphs">8.16E-04</text>
<text x="409.8" y="271.8" font-family="Liberation Sans, sans-serif" font-size="10.6" font-weight="bold" font-style="normal" fill="#404040" text-anchor="start" textLength="46" lengthAdjust="spacingAndGlyphs">8.81E-05</text>
<text x="471.0" y="271.8" font-family="Liberation Sans, sans-serif" font-size="10.6" font-weight="bold" font-style="normal" fill="#404040" text-anchor="start" textLength="45.5" lengthAdjust="spacingAndGlyphs">9.14E-05</text>
<text x="261.8" y="154.2" font-family="Liberation Sans, sans-serif" font-size="9.8" font-weight="normal" font-style="italic" fill="#1a1a1a" text-anchor="start" textLength="16.8" lengthAdjust="spacingAndGlyphs">(*1)</text>
<text x="231.6" y="206.3" font-family="Liberation Sans, sans-serif" font-size="9.8" font-weight="normal" font-style="italic" fill="#1a1a1a" text-anchor="start" textLength="16.1" lengthAdjust="spacingAndGlyphs">(*2)</text>
<circle cx="545.5" cy="41.0" r="2.9" fill="#a5a5a5" stroke="#404040" stroke-width="0.7"/>
<text x="562.5" y="43.90" font-family="Liberation Sans, sans-serif" font-size="10" font-weight="normal" font-style="normal" fill="#595959" text-anchor="start" textLength="45.6" lengthAdjust="spacingAndGlyphs">Total cells</text>
<circle cx="531.5" cy="65.85" r="1.1" fill="#5a5a5a"/>
<circle cx="536.5" cy="65.85" r="1.1" fill="#5a5a5a"/>
<circle cx="541.5" cy="65.85" r="1.1" fill="#5a5a5a"/>
<circle cx="546.5" cy="65.85" r="1.1" fill="#5a5a5a"/>
<circle cx="551.5" cy="65.85" r="1.1" fill="#5a5a5a"/>
<circle cx="556.5" cy="65.85" r="1.1" fill="#5a5a5a"/>
<text x="564.8" y="68.75" font-family="Liberation Sans, sans-serif" font-size="10" font-weight="normal" font-style="normal" fill="#595959" text-anchor="start" textLength="119.4" lengthAdjust="spacingAndGlyphs">Boundary: 10^6 total cells</text>
<circle cx="531.5" cy="90.40" r="1.1" fill="#5a5a5a"/>
<circle cx="536.5" cy="90.40" r="1.1" fill="#5a5a5a"/>
<circle cx="541.5" cy="90.40" r="1.1" fill="#5a5a5a"/>
<circle cx="546.5" cy="90.40" r="1.1" fill="#5a5a5a"/>
<circle cx="551.5" cy="90.40" r="1.1" fill="#5a5a5a"/>
<circle cx="556.5" cy="90.40" r="1.1" fill="#5a5a5a"/>
<text x="564.8" y="93.30" font-family="Liberation Sans, sans-serif" font-size="10" font-weight="normal" font-style="normal" fill="#595959" text-anchor="start" textLength="96.4" lengthAdjust="spacingAndGlyphs">Boundary: sFLCr 0.25</text>
<circle cx="531.5" cy="114.95" r="1.1" fill="#5a5a5a"/>
<circle cx="536.5" cy="114.95" r="1.1" fill="#5a5a5a"/>
<circle cx="541.5" cy="114.95" r="1.1" fill="#5a5a5a"/>
<circle cx="546.5" cy="114.95" r="1.1" fill="#5a5a5a"/>
<circle cx="551.5" cy="114.95" r="1.1" fill="#5a5a5a"/>
<circle cx="556.5" cy="114.95" r="1.1" fill="#5a5a5a"/>
<text x="564.8" y="117.85" font-family="Liberation Sans, sans-serif" font-size="10" font-weight="normal" font-style="normal" fill="#595959" text-anchor="start" textLength="96.4" lengthAdjust="spacingAndGlyphs">Boundary: sFLCr 1.65</text>
<circle cx="545.5" cy="139.20" r="2.9" fill="#ffc000" stroke="#7f7f7f" stroke-width="0.5"/>
<text x="562.5" y="142.60" font-family="Liberation Sans, sans-serif" font-size="10" font-weight="normal" font-style="normal" fill="#595959" text-anchor="start" textLength="29.8" lengthAdjust="spacingAndGlyphs">B-cells</text>
<circle cx="545.5" cy="163.75" r="2.9" fill="#00b050" stroke="#1a1a1a" stroke-width="0.7"/>
<text x="562.5" y="166.90" font-family="Liberation Sans, sans-serif" font-size="10" font-weight="normal" font-style="normal" fill="#595959" text-anchor="start" textLength="17.5" lengthAdjust="spacingAndGlyphs">nPC</text>
<circle cx="545.5" cy="188.30" r="3.1" fill="#000"/>
<text x="562.5" y="192.10" font-family="Liberation Sans, sans-serif" font-size="10" font-weight="normal" font-style="normal" fill="#595959" text-anchor="start" textLength="56.4" lengthAdjust="spacingAndGlyphs">mPC (count)</text>
<circle cx="545.5" cy="212.85" r="3.1" fill="#e2e2e2" stroke="#000" stroke-width="1.3"/>
<text x="562.5" y="216.50" font-family="Liberation Sans, sans-serif" font-size="10" font-weight="normal" font-style="normal" fill="#595959" text-anchor="start" textLength="34.9" lengthAdjust="spacingAndGlyphs">no mPC</text>
<path d="M545.50 234.40L548.50 237.40L545.50 240.40L542.50 237.40Z" fill="#44546a"/>
<text x="562.5" y="241.10" font-family="Liberation Sans, sans-serif" font-size="10" font-weight="normal" font-style="normal" fill="#595959" text-anchor="start" textLength="23.2" lengthAdjust="spacingAndGlyphs">sFLCr</text>
<path d="M545.70 259.45L548.80 265.65L542.60 265.65Z" fill="#ff0000"/>
<text x="562.5" y="265.80" font-family="Liberation Sans, sans-serif" font-size="10" font-weight="normal" font-style="normal" fill="#595959" text-anchor="start" textLength="113.4" lengthAdjust="spacingAndGlyphs">mPC/ total events (ratio)</text>
</svg>
</body></html>
